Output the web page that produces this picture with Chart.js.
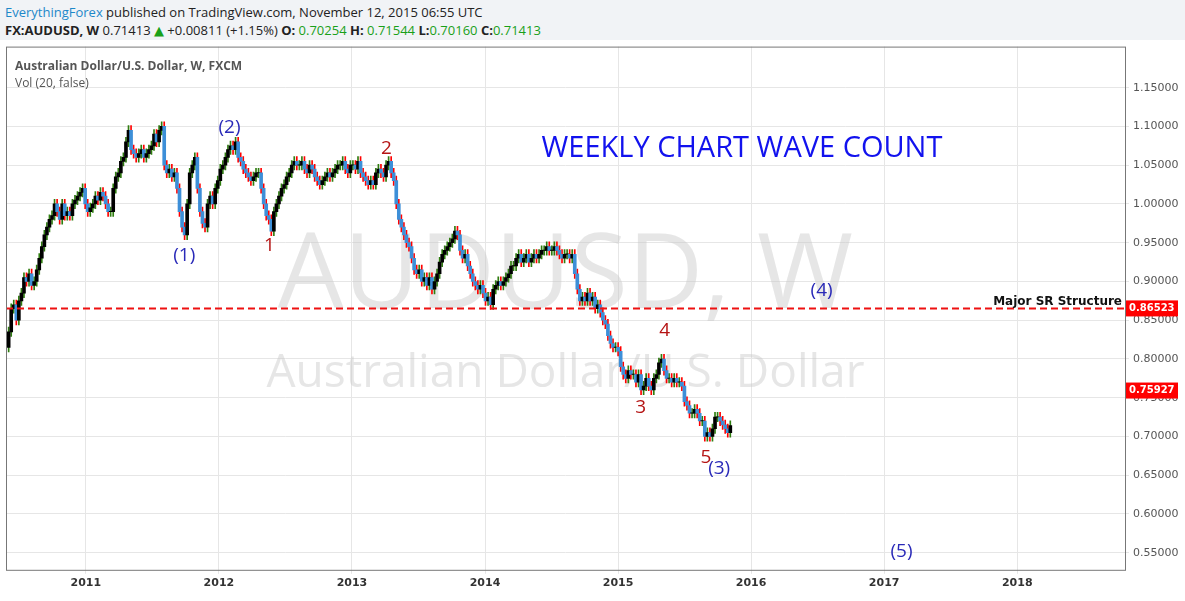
<!DOCTYPE html>
<html><head><meta charset="utf-8">
<script src="https://cdn.jsdelivr.net/npm/chart.js@4.4.0/dist/chart.umd.min.js"></script>
<style>
body{margin:0;background:#fff;font-family:"Open Sans","DejaVu Sans",sans-serif;}
#hdr{position:absolute;left:0;top:0;width:1185px;height:40px;background:#f1f3f6;}
#l1{position:absolute;left:5px;top:3px;font-size:13px;color:#222;}
#l2{position:absolute;left:5px;top:21px;font-size:13px;color:#222;}
#wrap{position:absolute;left:0;top:36px;width:1185px;height:565px;}
</style></head><body>
<div id="hdr">
<div id="l1"><span style="color:#1e88c9">EverythingForex</span> published on TradingView.com, November 12, 2015 06:55 UTC</div>
<div id="l2"><b>FX:AUDUSD, W</b> 0.71413 <span style="color:#19a019">▲</span> +0.00811 (+1.15%) <b>O:</b> <span style="color:#19a019">0.70254</span> <b>H:</b> <span style="color:#19a019">0.71544</span> <b>L:</b><span style="color:#19a019">0.70160</span> <b>C:</b><span style="color:#19a019">0.71413</span></div>
</div>
<div id="wrap"><canvas id="c" width="1185" height="565"></canvas></div>
<script>
const startYear = 2010.42;
const firstOpen = 0.815;
const closes = [
0.835,0.865,0.87,0.85,0.875,0.885,0.905,0.90,0.91,0.895,0.90,0.915,0.93,0.945,0.96,0.97,0.98,0.985,1.00,0.99,0.98,1.00,0.985,0.99,0.985,1.00,1.005,1.01,1.015,1.02,
1.00,0.99,0.995,1.00, 1.01,1.005,1.015,1.01, 1.00,0.99,0.99,1.02,1.035, 1.04,1.055,1.06,1.08, 1.095,1.07,1.065,1.06,1.065, 1.07,1.06,1.065,1.07, 1.075,1.09,1.08,1.095,1.10, 1.05,1.04,1.045,1.035, 1.04,1.02,0.99,0.97, 0.96,1.00,1.04,1.05,1.06, 1.02,0.99,0.975,0.97, 1.00,1.01,1.00,1.02,
1.03,1.045,1.05,1.06, 1.07,1.075,1.07,1.08, 1.06,1.055,1.045,1.04,1.035, 1.03,1.035,1.04,1.04, 1.02,1.00,0.985,0.98, 0.965,0.99,1.00,1.01,1.02, 1.025,1.035,1.04,1.05, 1.055,1.05,1.05,1.055,1.045, 1.04,1.05,1.045,1.035, 1.03,1.025,1.03,1.035, 1.04,1.035,1.04,1.045,1.05, 1.05,1.055,1.045,1.04,
1.05,1.05,1.045,1.055, 1.04,1.035,1.03,1.025, 1.03,1.025,1.04,1.045,1.04, 1.035,1.05,1.055,1.04, 1.03,1.00,0.98,0.97,0.96, 0.95,0.945,0.93,0.915, 0.91,0.915,0.90,0.905, 0.895,0.905,0.89,0.90,0.91, 0.925,0.935,0.94,0.945, 0.95,0.955,0.965,0.96, 0.94,0.93,0.935,0.92,0.91, 0.90,0.895,0.89,0.895,
0.885,0.875,0.88,0.87, 0.89,0.895,0.90,0.895, 0.90,0.905,0.91,0.92,0.92, 0.93,0.935,0.925,0.93, 0.935,0.925,0.93,0.935,0.93, 0.935,0.94,0.94,0.945, 0.94,0.94,0.945,0.94, 0.935,0.93,0.935,0.935,0.93, 0.935,0.91,0.89,0.875, 0.88,0.875,0.885,0.875,0.88, 0.865,0.87,0.86,0.85, 0.845,0.83,0.82,0.815,
0.815,0.81,0.79,0.78,0.775, 0.785,0.78,0.78,0.77, 0.78,0.76,0.765,0.775, 0.765,0.76,0.775,0.78, 0.795,0.80,0.785,0.775,0.775, 0.77,0.775,0.77,0.77, 0.765,0.745,0.74,0.73,0.73, 0.735,0.73,0.72,0.72, 0.70,0.705,0.70,0.71, 0.725,0.725,0.72,0.715,0.71, 0.705,0.71413
];
const wick = 0.006;
const yTicks = [0.55,0.60,0.65,0.70,0.75,0.80,0.85,0.90,0.95,1.00,1.05,1.10,1.15];
const yearTicks = [2011,2012,2013,2014,2015,2016,2017,2018];
const srLevel = 0.86523, lastLevel = 0.75927;
const waveLabels = [
 {t:'(1)',x:2011.74,y:0.933,c:'#2a2ab8'},{t:'(2)',x:2012.08,y:1.099,c:'#2a2ab8'},
 {t:'1',x:2012.38,y:0.946,c:'#b51414'},{t:'2',x:2013.26,y:1.072,c:'#b51414'},
 {t:'3',x:2015.17,y:0.737,c:'#b51414'},{t:'4',x:2015.35,y:0.836,c:'#b51414'},
 {t:'5',x:2015.66,y:0.673,c:'#b51414'},{t:'(3)',x:2015.76,y:0.659,c:'#2a2ab8'},
 {t:'(4)',x:2016.53,y:0.888,c:'#2a2ab8'},{t:'(5)',x:2017.13,y:0.551,c:'#2a2ab8'}
];
const week = 7/365.25;
const bodies=[], wicks=[], bCol=[], wCol=[];
closes.forEach((c,i)=>{
  const o = i===0?firstOpen:closes[i-1];
  const x = startYear + i*week;
  const up = c>=o;
  bodies.push({x, y:[o, c===o? c+0.0005 : c]});
  wicks.push({x, y:[Math.min(o,c)-wick, Math.max(o,c)+wick]});
  bCol.push(up?'#000':'#3d8fd8'); wCol.push(up?'#2f7d10':'#ff0000');
});
const overlay = {
  id:'ov',
  beforeDatasetsDraw(ch){
    const {ctx,chartArea:a}=ch;
    ctx.save();
    ctx.fillStyle='rgba(200,200,200,0.45)';ctx.textAlign='center';ctx.textBaseline='middle';
    ctx.font='104px "Open Sans",sans-serif';ctx.fillText('AUDUSD, W',(a.left+a.right)/2,a.top+232);
    ctx.font='46px "Open Sans",sans-serif';ctx.fillText('Australian Dollar/U.S. Dollar',(a.left+a.right)/2,a.top+327);
    ctx.restore();
  },
  afterDatasetsDraw(ch){
    const {ctx,chartArea:a,scales:{x,y}}=ch;
    ctx.save();
    const ys=y.getPixelForValue(srLevel);
    ctx.strokeStyle='#ee1111';ctx.lineWidth=2;ctx.setLineDash([7,4]);
    ctx.beginPath();ctx.moveTo(a.left,ys);ctx.lineTo(a.right,ys);ctx.stroke();ctx.setLineDash([]);
    ctx.fillStyle='#111';ctx.font='bold 12px "DejaVu Sans",sans-serif';ctx.textAlign='right';ctx.textBaseline='bottom';
    ctx.fillText('Major SR Structure',a.right-3,ys-1);
    ctx.textAlign='center';ctx.textBaseline='middle';
    waveLabels.forEach(w=>{ctx.fillStyle=w.c;ctx.font='19px "Open Sans",sans-serif';ctx.fillText(w.t,x.getPixelForValue(w.x),y.getPixelForValue(w.y));});
    ctx.fillStyle='#1212ee';ctx.font='29px "Open Sans",sans-serif';ctx.fillText('WEEKLY CHART WAVE COUNT',742,a.top+102);
    ctx.textAlign='left';ctx.fillStyle='#555';ctx.font='bold 12px "Open Sans",sans-serif';
    ctx.fillText('Australian Dollar/U.S. Dollar, W, FXCM',15,a.top+20);
    ctx.font='12px "Open Sans",sans-serif';ctx.fillText('Vol (20, false)',15,a.top+37);
    [[srLevel],[lastLevel]].forEach(([v])=>{const py=y.getPixelForValue(v);ctx.fillStyle='#ff0000';ctx.fillRect(a.right+1,py-8,52,16);
      ctx.fillStyle='#fff';ctx.font='bold 10px "DejaVu Sans",sans-serif';ctx.fillText(v.toFixed(5),a.right+4,py);});
    ctx.strokeStyle='#777';ctx.lineWidth=1;ctx.strokeRect(a.left+0.5,a.top+0.5,a.right-a.left,a.bottom-a.top);
    ctx.restore();
  }
};
new Chart(document.getElementById('c'),{
  type:'bar',
  data:{datasets:[
    {data:wicks,backgroundColor:wCol,barThickness:1,grouped:false,order:2},
    {data:bodies,backgroundColor:bCol,barThickness:3,grouped:false,order:1}
  ]},
  options:{responsive:false,animation:false,
    layout:{padding:{left:6,top:4,right:0,bottom:8}},
    plugins:{legend:{display:false},tooltip:{enabled:false}},
    scales:{
      x:{type:'linear',min:2010.4,max:2018.81,offset:false,
        afterBuildTicks(s){s.ticks=yearTicks.map(v=>({value:v}));},
        ticks:{color:'#333',font:{size:11,weight:'bold',family:'"DejaVu Sans"'},callback:v=>String(v),maxRotation:0,autoSkip:false},
        grid:{offset:false,color:'#e6e6e6',drawTicks:true,tickLength:4}, border:{display:false}},
      y:{position:'right',min:0.528,max:1.203,
        afterBuildTicks(s){s.ticks=yTicks.map(v=>({value:v}));},
        ticks:{color:'#555',font:{size:11,family:'"DejaVu Sans"'},callback:v=>v.toFixed(5),padding:4,autoSkip:false},
        grid:{color:'#e6e6e6',tickLength:4},afterFit(s){s.width=60;}, border:{display:false}}
    }},
  plugins:[overlay]
});
</script></body></html>
